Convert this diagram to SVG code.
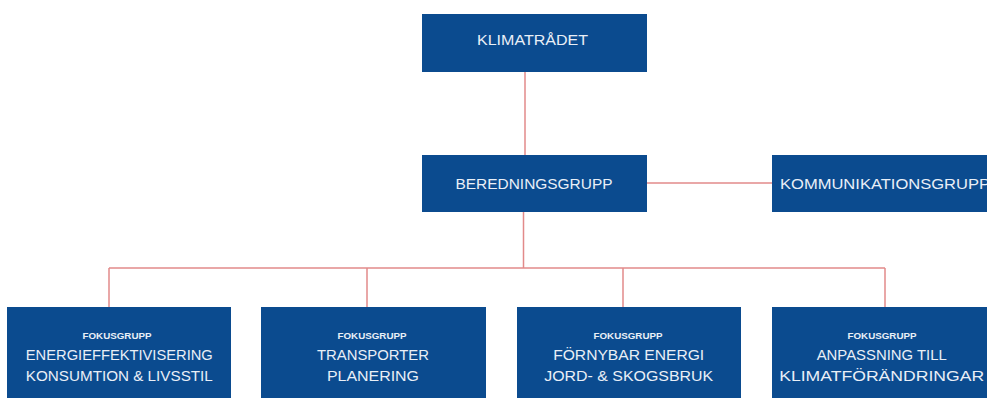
<svg xmlns="http://www.w3.org/2000/svg" width="987" height="398" viewBox="0 0 987 398">
<style>
.box{fill:#0b4b8f;}
.t{font-family:"Liberation Sans",Arial,sans-serif;fill:#e9eff7;text-anchor:middle;}
.lg{font-size:15.5px;}
.sm{font-size:8.5px;font-weight:bold;}
.md{font-size:15px;}
.c{stroke:#e28a8a;stroke-width:1.5;fill:none;}
</style>
<rect width="987" height="398" fill="#ffffff"/>
<g id="connectors">
<line class="c" x1="525" y1="72" x2="525" y2="155"/>
<line class="c" x1="647" y1="183" x2="772" y2="183"/>
<line class="c" x1="523.5" y1="212" x2="523.5" y2="268"/>
<line class="c" x1="109" y1="268" x2="885" y2="268"/>
<line class="c" x1="109" y1="268" x2="109" y2="307"/>
<line class="c" x1="367" y1="268" x2="367" y2="307"/>
<line class="c" x1="623" y1="268" x2="623" y2="307"/>
<line class="c" x1="885" y1="268" x2="885" y2="307"/>
</g>
<g id="klimatradet">
<rect class="box" x="422" y="14" width="225" height="58"/>
<text class="t lg" x="532.5" y="44.5" textLength="111" lengthAdjust="spacingAndGlyphs">KLIMATRÅDET</text>
</g>
<g id="beredningsgrupp">
<rect class="box" x="422" y="155" width="225" height="57"/>
<text class="t lg" x="534" y="188.5" textLength="157" lengthAdjust="spacingAndGlyphs">BEREDNINGSGRUPP</text>
</g>
<g id="kommunikationsgrupp">
<rect class="box" x="772" y="155" width="225" height="57"/>
<text class="t lg" x="885" y="188.5" textLength="210" lengthAdjust="spacingAndGlyphs">KOMMUNIKATIONSGRUPP</text>
</g>
<g id="fokus1">
<rect class="box" x="7" y="307" width="224" height="100"/>
<text class="t sm" x="117" y="338.5" textLength="69" lengthAdjust="spacingAndGlyphs">FOKUSGRUPP</text>
<text class="t md" x="119.3" y="359.5" textLength="187" lengthAdjust="spacingAndGlyphs">ENERGIEFFEKTIVISERING</text>
<text class="t md" x="119.3" y="381" textLength="187" lengthAdjust="spacingAndGlyphs">KONSUMTION &amp; LIVSSTIL</text>
</g>
<g id="fokus2">
<rect class="box" x="261" y="307" width="225" height="100"/>
<text class="t sm" x="372" y="338.5" textLength="69" lengthAdjust="spacingAndGlyphs">FOKUSGRUPP</text>
<text class="t md" x="373" y="359.5" textLength="112" lengthAdjust="spacingAndGlyphs">TRANSPORTER</text>
<text class="t md" x="373" y="381" textLength="92" lengthAdjust="spacingAndGlyphs">PLANERING</text>
</g>
<g id="fokus3">
<rect class="box" x="517" y="307" width="224" height="100"/>
<text class="t sm" x="628" y="338.5" textLength="69" lengthAdjust="spacingAndGlyphs">FOKUSGRUPP</text>
<text class="t md" x="628.7" y="359.5" textLength="151" lengthAdjust="spacingAndGlyphs">FÖRNYBAR ENERGI</text>
<text class="t md" x="628.7" y="381" textLength="169" lengthAdjust="spacingAndGlyphs">JORD- &amp; SKOGSBRUK</text>
</g>
<g id="fokus4">
<rect class="box" x="772" y="307" width="222" height="100"/>
<text class="t sm" x="882" y="338.5" textLength="69" lengthAdjust="spacingAndGlyphs">FOKUSGRUPP</text>
<text class="t md" x="881.7" y="359.5" textLength="130" lengthAdjust="spacingAndGlyphs">ANPASSNING TILL</text>
<text class="t md" x="881.7" y="381" textLength="205" lengthAdjust="spacingAndGlyphs">KLIMATFÖRÄNDRINGAR</text>
</g>
</svg>
